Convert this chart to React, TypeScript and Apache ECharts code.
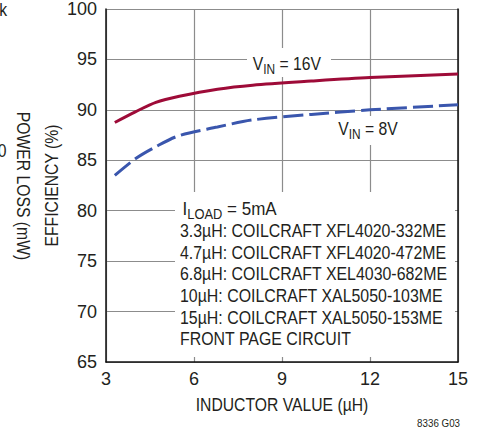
import React, { useEffect, useRef } from "react";
import * as echarts from "echarts";

const FONT = "'Liberation Sans', Arial, Helvetica, sans-serif";
const TXT = "#231f20";

const inductance = [3.3, 4, 4.7, 5.5, 6.8, 8, 10, 12, 15];
const effVin16 = [88.75, 89.8, 90.75, 91.35, 92.05, 92.45, 92.85, 93.2, 93.55];
const effVin8 = [83.5, 85.15, 86.35, 87.45, 88.3, 89.0, 89.55, 90.0, 90.5];

const xTicks = { min: 3, max: 15, interval: 3 };
const yTicks = { min: 65, max: 100, interval: 5 };

const xTitle = "INDUCTOR VALUE (µH)";
const yTitle = "EFFICIENCY (%)";
const noteLines = [
  "3.3µH: COILCRAFT XFL4020-332ME",
  "4.7µH: COILCRAFT XFL4020-472ME",
  "6.8µH: COILCRAFT XEL4030-682ME",
  "10µH: COILCRAFT XAL5050-103ME",
  "15µH: COILCRAFT XAL5050-153ME",
  "FRONT PAGE CIRCUIT",
];

const FS = 18.5;
const SX = 0.85;

function subText(main: string, sub: string, rest: string, x: number, y: number, sx: number = SX) {
  return {
    type: "text",
    z: 101,
    x,
    y,
    scaleX: sx,
    style: {
      text: `{a|${main}}{b|${sub}}{a|${rest}}`,
      align: "left",
      textAlign: "left",
      verticalAlign: "middle",
      textVerticalAlign: "middle",
      rich: {
        a: { fontSize: FS, fontFamily: FONT, fill: TXT, lineHeight: 26, verticalAlign: "middle" },
        b: { fontSize: 14, fontFamily: FONT, fill: TXT, lineHeight: 26, verticalAlign: "bottom" },
      },
    },
  };
}

function plainText(text: string, x: number, y: number, opts: any = {}) {
  return {
    type: "text",
    z: 101,
    x,
    y,
    scaleX: opts.scaleX || SX,
    rotation: opts.rotation || 0,
    style: {
      text,
      fontSize: opts.fontSize || FS,
      fontFamily: FONT,
      fill: TXT,
      align: opts.align || "left",
      textAlign: opts.align || "left",
      verticalAlign: "middle",
      textVerticalAlign: "middle",
    },
  };
}

export default function App() {
  const ref = useRef<HTMLDivElement>(null);
  useEffect(() => {
    if (!ref.current) return;
    const chart = echarts.init(ref.current, null, { renderer: "svg" });
    const noteY = [231, 252.3, 274, 295.7, 317.3, 339];
    const option: any = {
      animation: false,
      textStyle: { fontFamily: FONT },
      grid: { left: 106, right: 22, top: 9, bottom: 73, containLabel: false, outerBoundsMode: "none" },
      xAxis: {
        type: "value",
        ...xTicks,
        axisLine: { show: true, lineStyle: { color: "#111", width: 1.5 } },
        axisTick: { show: false },
        splitLine: { show: true, lineStyle: { color: "#8c8c8c", width: 1.2 } },
        axisLabel: { fontSize: 18, color: TXT, margin: 8, fontFamily: FONT },
      },
      yAxis: [
        {
          type: "value",
          ...yTicks,
          axisLine: { show: true, lineStyle: { color: "#111", width: 1.5 } },
          axisTick: { show: false },
          splitLine: { show: true, lineStyle: { color: "#8c8c8c", width: 1.2 } },
          axisLabel: { fontSize: 18, color: TXT, margin: 9, fontFamily: FONT },
        },
        {
          type: "value",
          position: "right",
          ...yTicks,
          axisLine: { show: true, lineStyle: { color: "#111", width: 1.5 } },
          axisTick: { show: false },
          axisLabel: { show: false },
          splitLine: { show: false },
        },
      ],
      series: [
        {
          type: "line",
          name: "VIN = 16V",
          yAxisIndex: 0,
          data: inductance.map((x, i) => [x, effVin16[i]]),
          smooth: 0.3,
          showSymbol: false,
          lineStyle: { color: "#9e0b38", width: 3 },
          itemStyle: { color: "#9e0b38" },
          z: 5,
        },
        {
          type: "line",
          name: "VIN = 8V",
          yAxisIndex: 0,
          data: inductance.map((x, i) => [x, effVin8[i]]),
          smooth: 0.3,
          showSymbol: false,
          lineStyle: { color: "#3a56ad", width: 3, type: [20, 6] },
          itemStyle: { color: "#3a56ad" },
          z: 5,
        },
      ],
      graphic: [
        { type: "rect", z: 100, shape: { x: 175, y: 192, width: 280, height: 165 }, style: { fill: "#fff" } },
        { type: "rect", z: 100, shape: { x: 247, y: 48, width: 84, height: 29 }, style: { fill: "#fff" } },
        { type: "rect", z: 100, shape: { x: 333, y: 116, width: 73, height: 29 }, style: { fill: "#fff" } },
        subText("V", "IN", " = 16V", 252.7, 63.3),
        subText("V", "IN", " = 8V", 338.3, 128.3),
        subText("I", "LOAD", " = 5mA", 182.5, 208.7, 0.92),
        ...noteLines.map((t, i) => plainText(t, 180, noteY[i], { scaleX: 0.86 })),
        plainText(xTitle, 282, 405, { align: "center" }),
        plainText(yTitle, 51.5, 185.5, { align: "center", rotation: Math.PI / 2 }),
        plainText("POWER LOSS (mW)", 23.3, 186, { rotation: -Math.PI / 2, align: "center" }),
        plainText("1k", 7, 10, { align: "right" }),
        plainText("10", 6.5, 151, { align: "right" }),
        plainText("8336 G03", 460, 422.5, { align: "right", fontSize: 11.5 }),
      ],
    };
    chart.setOption(option);
    return () => chart.dispose();
  }, []);
  return (
    <div
      ref={ref}
      style={{ position: "absolute", left: 0, top: 0, width: 480, height: 435, background: "#fff" }}
    />
  );
}
